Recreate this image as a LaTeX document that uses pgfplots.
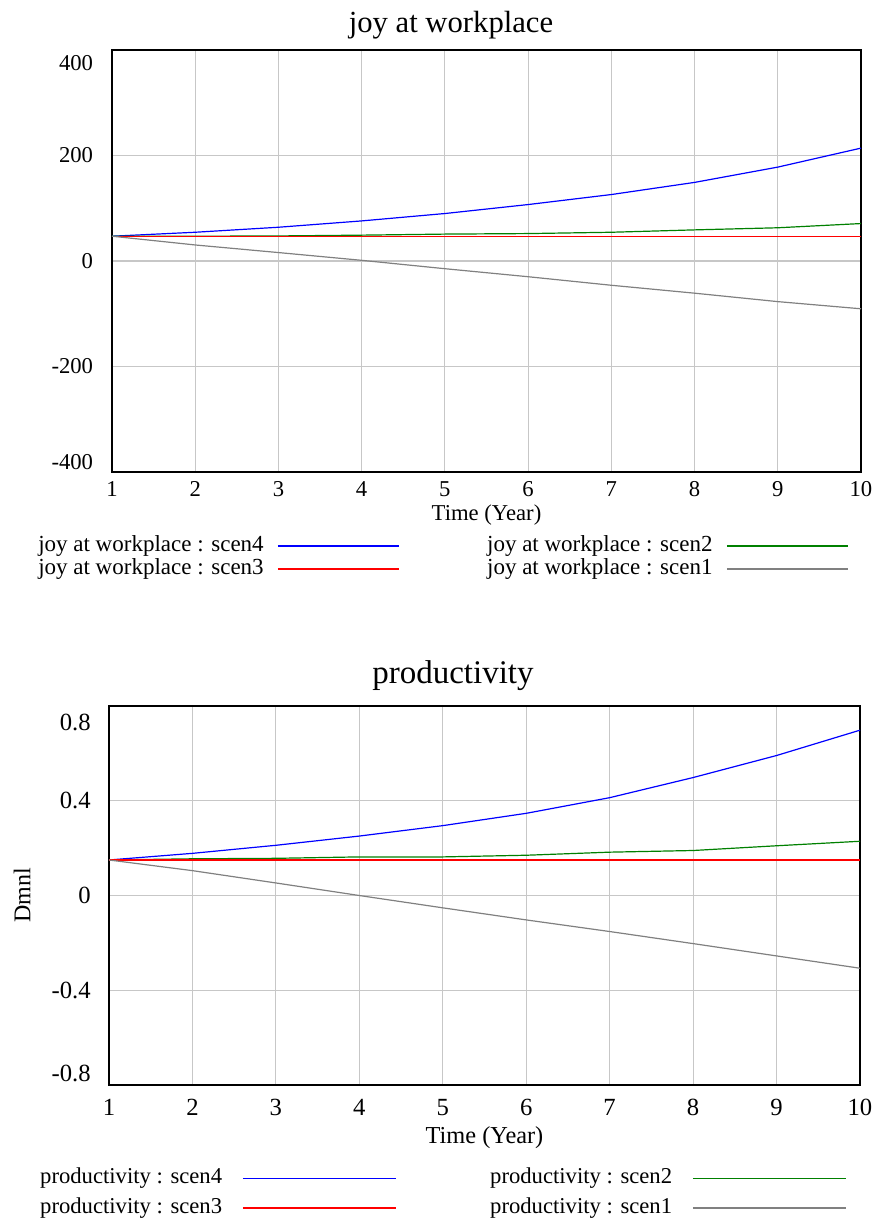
\documentclass[border=0pt]{standalone}
\usepackage{fontspec}
\setmainfont{Liberation Serif}
\usepackage{pgfplots}
\pgfplotsset{compat=1.18}

\definecolor{scenblue}{RGB}{0,0,255}
\definecolor{scengreen}{RGB}{0,128,0}
\definecolor{scenred}{RGB}{255,0,0}
\definecolor{scengray}{RGB}{128,128,128}

\pgfplotsset{vensim/.style={
  scale only axis, anchor=north west,
  xmin=1, xmax=10,
  xtick={1,...,10},
  xticklabels={1,2,3,4,5,6,7,8,9,10},
  grid=major,
  major grid style={draw=black!22, line width=0.9pt},
  axis line style={line width=1.9pt},
  major tick length=0pt,
  clip=false,
  every axis title shift=0pt,
  xticklabel style={anchor=north, inner sep=0pt},
  yticklabel style={anchor=east, inner sep=0pt, xshift=-14pt},
  legend columns=2, legend plot pos=right, legend cell align=left,
  every axis plot/.append style={line width=0.9pt, mark=none},
}}

\begin{document}
\begin{tikzpicture}
\useasboundingbox (0,0) rectangle (655.5pt,-913.5pt);

% ---- joy at workplace ----
\begin{axis}[vensim,
  at={(84pt,-37.5pt)}, width=561.75pt, height=316.5pt,
  ymin=-400, ymax=400,
  ytick={-400,-200,0,200,400},
  yticklabels={,-200,0,200,},
  tick label style={font=\fontsize{17}{19}\selectfont},
  xticklabel style={yshift=-7pt},
  title={joy at workplace},
  title style={at={(axis description cs:0.4526,1.06)}, anchor=center, font=\fontsize{23}{26}\selectfont},
  xlabel={Time (Year)},
  xlabel style={at={(axis description cs:0.5,-0.1019)}, anchor=center, font=\fontsize{17}{19}\selectfont},
  legend style={at={(axis description cs:-0.0988,-0.1502)}, anchor=north west, draw=none, fill=none,
    font=\fontsize{17.25}{19}\selectfont, inner sep=0pt, row sep=1.25pt,
    nodes={inner sep=0pt, text height=12pt, text depth=4pt},
    /tikz/every odd column/.append style={column sep=10pt},
    /tikz/every even column/.append style={column sep=65.5pt}},
  legend image code/.code={\draw[#1,line width=1.3pt] (0pt,0pt) -- (90.75pt,0pt);},
]
\addplot[scenblue] coordinates {
  (1,47) (2,54.5) (3,64) (4,76) (5,90) (6,107) (7,126) (8,149) (9,178) (10,214)
};
\addlegendentry{joy at workplace : scen4}
\addplot[scengreen] coordinates {
  (1,47) (2,47) (3,47.5) (4,49) (5,51) (6,52) (7,54.5) (8,59) (9,63) (10,71)
};
\addlegendentry{joy at workplace : scen2}
\addplot[scenred] coordinates {
  (1,47) (2,47) (3,47) (4,47) (5,47) (6,47) (7,47) (8,47) (9,47) (10,47)
};
\addlegendentry{joy at workplace : scen3}
\addplot[scengray] coordinates {
  (1,47) (2,30.4) (3,16) (4,1.3) (5,-14.6) (6,-29.8) (7,-46) (8,-61) (9,-77) (10,-90.6)
};
\addlegendentry{joy at workplace : scen1}
\node[anchor=east, inner sep=0pt, xshift=-14pt, yshift=-10pt, font=\fontsize{17}{19}\selectfont] at (rel axis cs:0,1) {400};
\node[anchor=east, inner sep=0pt, xshift=-14pt, yshift=7.5pt, font=\fontsize{17}{19}\selectfont] at (rel axis cs:0,0) {-400};
\end{axis}

% ---- productivity ----
\begin{axis}[vensim,
  at={(81.75pt,-529.5pt)}, width=563.25pt, height=284.25pt,
  ymin=-0.8, ymax=0.8,
  ytick={-0.8,-0.4,0,0.4,0.8},
  yticklabels={,-0.4,0,0.4,},
  tick label style={font=\fontsize{18.5}{21}\selectfont},
  yticklabel style={xshift=0.5pt},
  xticklabel style={yshift=-10.5pt},
  title={productivity},
  title style={at={(axis description cs:0.458,1.079)}, anchor=center, font=\fontsize{24.75}{28}\selectfont},
  xlabel={Time (Year)},
  xlabel style={at={(axis description cs:0.5,-0.1398)}, anchor=center, font=\fontsize{18.25}{20}\selectfont},
  ylabel={Dmnl},
  ylabel style={at={(axis description cs:-0.1158,0.5)}, anchor=center, font=\fontsize{18}{20}\selectfont},
  legend style={at={(axis description cs:-0.092,-0.218)}, anchor=north west, draw=none, fill=none,
    font=\fontsize{17}{19}\selectfont, inner sep=0pt, row sep=6pt,
    nodes={inner sep=0pt, text height=12pt, text depth=4pt},
    /tikz/every odd column/.append style={column sep=15pt},
    /tikz/every even column/.append style={column sep=70pt}},
  legend image code/.code={\draw[#1,line width=1.3pt] (0pt,0pt) -- (114.75pt,0pt);},
]
\addplot[scenblue] coordinates {
  (1,0.15) (2,0.178) (3,0.212) (4,0.251) (5,0.295) (6,0.347) (7,0.413) (8,0.498) (9,0.591) (10,0.698)
};
\addlegendentry{productivity : scen4}
\addplot[scengreen] coordinates {
  (1,0.15) (2,0.155) (3,0.157) (4,0.163) (5,0.163) (6,0.170) (7,0.183) (8,0.190) (9,0.210) (10,0.229)
};
\addlegendentry{productivity : scen2}
\addplot[scenred] coordinates {
  (1,0.15) (2,0.15) (3,0.15) (4,0.15) (5,0.15) (6,0.15) (7,0.15) (8,0.15) (9,0.15) (10,0.15)
};
\addlegendentry{productivity : scen3}
\addplot[scengray] coordinates {
  (1,0.15) (2,0.105) (3,0.053) (4,0.0) (5,-0.052) (6,-0.103) (7,-0.152) (8,-0.203) (9,-0.255) (10,-0.307)
};
\addlegendentry{productivity : scen1}
\node[anchor=east, inner sep=0pt, xshift=-13.5pt, yshift=-12pt, font=\fontsize{18.5}{21}\selectfont] at (rel axis cs:0,1) {0.8};
\node[anchor=east, inner sep=0pt, xshift=-13.5pt, yshift=9pt, font=\fontsize{18.5}{21}\selectfont] at (rel axis cs:0,0) {-0.8};
\end{axis}
\end{tikzpicture}
\end{document}
